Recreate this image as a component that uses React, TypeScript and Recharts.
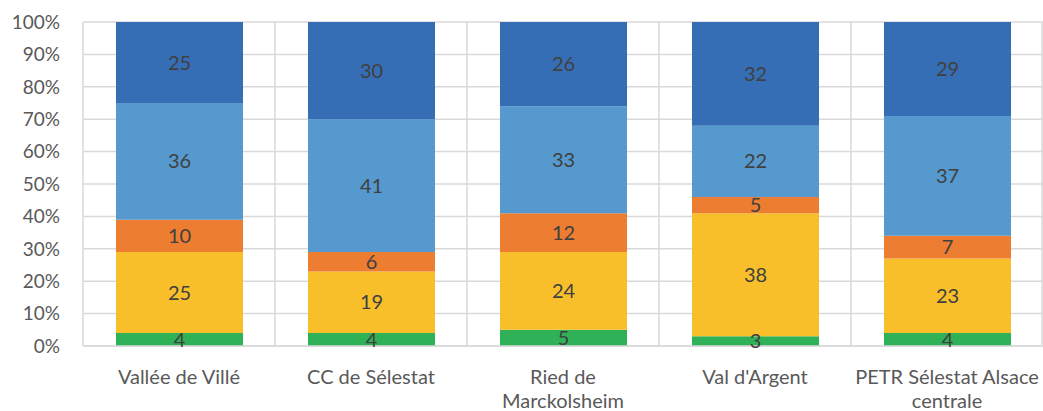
import { BarChart, Bar, XAxis, YAxis, CartesianGrid, LabelList } from "recharts"

const CATEGORIES = ["Vallée de Villé", "CC de Sélestat", "Ried de\nMarckolsheim", "Val d'Argent", "PETR Sélestat Alsace\ncentrale"]
const GREEN = [4, 4, 5, 3, 4]
const YELLOW = [25, 19, 24, 38, 23]
const ORANGE = [10, 6, 12, 5, 7]
const LIGHT_BLUE = [36, 41, 33, 22, 37]
const DARK_BLUE = [25, 30, 26, 32, 29]
const Y_TICKS = [0, 10, 20, 30, 40, 50, 60, 70, 80, 90, 100]

const data = CATEGORIES.map((name, i) => ({
  name,
  green: GREEN[i],
  yellow: YELLOW[i],
  orange: ORANGE[i],
  lightBlue: LIGHT_BLUE[i],
  darkBlue: DARK_BLUE[i],
}))

const SERIES = [
  { key: "green", color: "#2eb157" },
  { key: "yellow", color: "#f9bf2b" },
  { key: "orange", color: "#ed7d31" },
  { key: "lightBlue", color: "#5599cf" },
  { key: "darkBlue", color: "#356eb5" },
]

const FONT = "Lato, 'Open Sans', sans-serif"

function CategoryTick({ x, y, payload }: any) {
  const lines = String(payload.value).split("\n")
  return (
    <text x={x} y={y} textAnchor="middle" fill="#595959" fontSize={20} fontFamily={FONT}>
      {lines.map((l, i) => (
        <tspan key={i} x={x} dy={i === 0 ? 30 : 24}>
          {l}
        </tspan>
      ))}
    </text>
  )
}

export default function App() {
  return (
    <div style={{ position: "fixed", left: 0, top: 0, width: 1043, height: 411, background: "#fff" }}>
      <BarChart
        width={1043}
        height={411}
        data={data}
        stackOffset="expand"
        margin={{ top: 22, right: 0, bottom: 0, left: 0 }}
      >
        <CartesianGrid
          stroke="#d9d9d9"
          strokeWidth={1.5}
          verticalCoordinatesGenerator={({ offset }: any) =>
            CATEGORIES.map((_, i) => offset.left + (i * offset.width) / CATEGORIES.length).concat([offset.left + offset.width - 1])
          }
        />
        <XAxis
          dataKey="name"
          tick={<CategoryTick />}
          tickLine={false}
          axisLine={{ stroke: "#d9d9d9", strokeWidth: 1.5 }}
          interval={0}
          height={65}
        />
        <YAxis
          width={83}
          ticks={Y_TICKS.map((t) => t / 100)}
          interval={0}
          domain={[0, 1]}
          tickFormatter={(v: number) => `${Math.round(v * 100)}%`}
          tick={{ fill: "#595959", fontSize: 19, fontFamily: FONT }}
          tickLine={false}
          axisLine={false}
          tickMargin={17}
        />
        {SERIES.map((s) => (
          <Bar key={s.key} dataKey={s.key} stackId="a" fill={s.color} barSize={127} isAnimationActive={false}>
            <LabelList
              dataKey={s.key}
              position="center"
              fill="#404040"
              fontSize={20}
              fontFamily={FONT}
            />
          </Bar>
        ))}
      </BarChart>
    </div>
  )
}
